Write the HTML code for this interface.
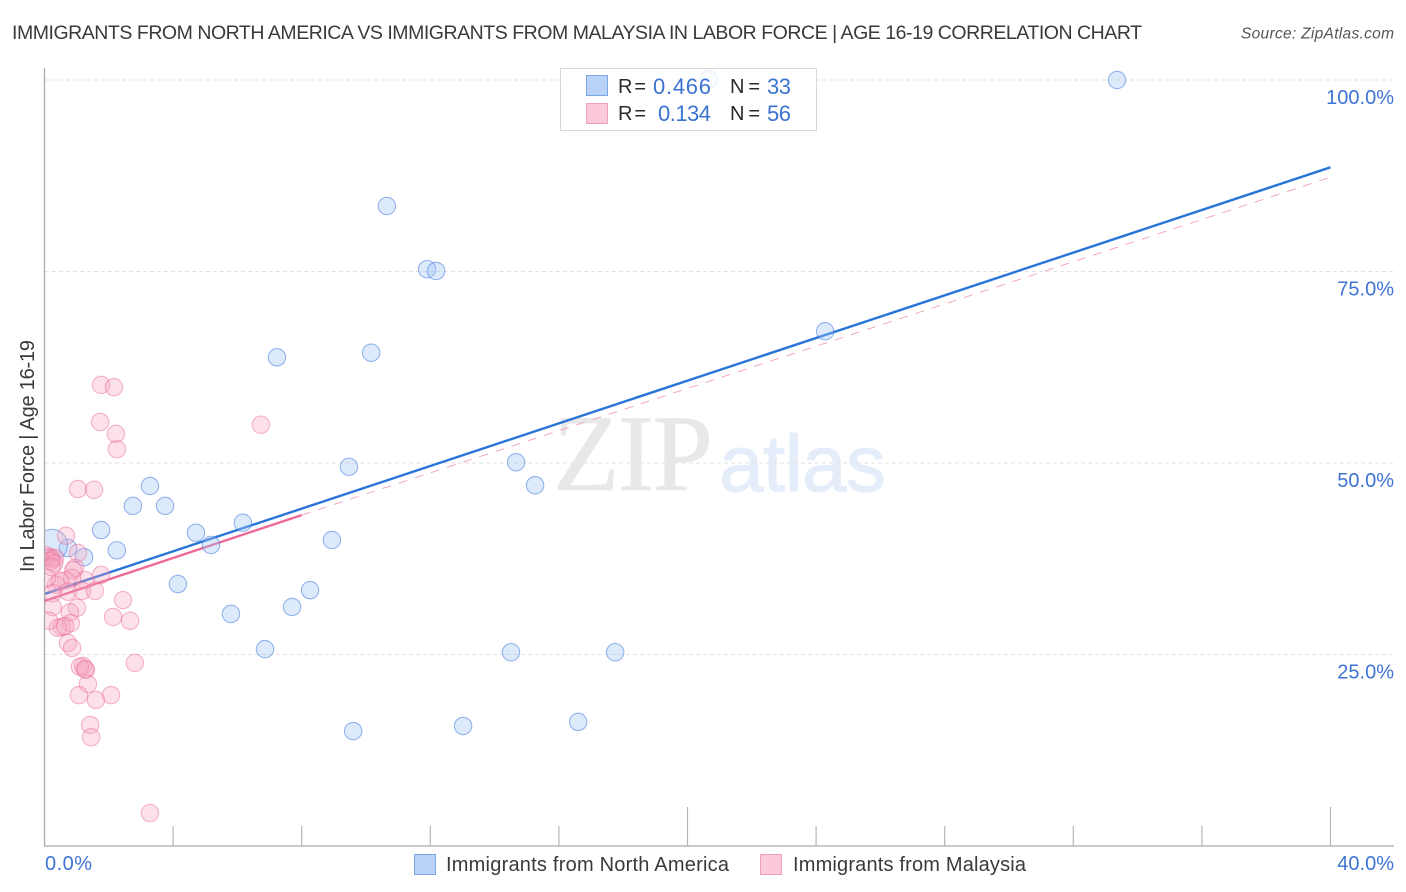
<!DOCTYPE html>
<html lang="en">
<head>
<meta charset="utf-8">
<title>Immigrants from North America vs Immigrants from Malaysia in Labor Force | Age 16-19 Correlation Chart</title>
<style>
html,body{margin:0;padding:0;background:#fff;}
body{width:1406px;height:892px;overflow:hidden;font-family:"Liberation Sans",sans-serif;}
svg{display:block;}
text{font-family:"Liberation Sans",sans-serif;}
</style>
</head>
<body>
<svg id="chart" width="1406" height="892" viewBox="0 0 1406 892" xmlns="http://www.w3.org/2000/svg">
  <defs>
    <clipPath id="plot-clip"><rect x="45" y="66" width="1349" height="780"/></clipPath>
  </defs>
  <rect x="0" y="0" width="1406" height="892" fill="#ffffff"/>
  <text x="12" y="39" font-size="19.5" fill="#3a3a3a" textLength="1130">IMMIGRANTS FROM NORTH AMERICA VS IMMIGRANTS FROM MALAYSIA IN LABOR FORCE | AGE 16-19 CORRELATION CHART</text>
  <text x="1241" y="38.5" font-size="15.5" font-style="italic" fill="#555555" textLength="153">Source: ZipAtlas.com</text>
  <text x="553" y="490" font-size="109" fill="#e8e8e8" stroke="#e8e8e8" stroke-width="0.6" style="font-family:'Liberation Serif',serif" textLength="160">ZIP</text>
  <text x="719" y="491" font-size="80" fill="#e5edfa" stroke="#e5edfa" stroke-width="1" textLength="167">atlas</text>
  <g id="grid"></g>
  <g id="axes"></g>
  <g id="reference-lines" clip-path="url(#plot-clip)"></g>
  <g id="points" clip-path="url(#plot-clip)"></g>
  <g id="labels"></g>
  <text transform="translate(34 572) rotate(-90)" font-size="20" fill="#3a3a3a" textLength="232">In Labor Force | Age 16-19</text>

  <g>
    <rect x="560.5" y="68.5" width="256" height="62" fill="#ffffff" fill-opacity="0.82" stroke="#d8d8d8" stroke-width="1"/>
    <rect x="586.5" y="75.5" width="21" height="20" fill="#b9d3f8" stroke="#7ba7e4" stroke-width="1"/>
    <text x="618" y="93" font-size="20" fill="#2b2b2b" textLength="28">R =</text>
    <text x="653" y="94" font-size="22" fill="#3b73d1" textLength="58">0.466</text>
    <text x="730" y="93" font-size="20" fill="#2b2b2b" textLength="30">N =</text>
    <text x="767" y="94" font-size="22" fill="#3b73d1" textLength="24">33</text>
    <rect x="586.5" y="103.5" width="21" height="20" fill="#fcc9d9" stroke="#f0a0ba" stroke-width="1"/>
    <text x="618" y="120" font-size="20" fill="#2b2b2b" textLength="28">R =</text>
    <text x="658" y="121" font-size="22" fill="#3b73d1" textLength="53">0.134</text>
    <text x="730" y="120" font-size="20" fill="#2b2b2b" textLength="30">N =</text>
    <text x="767" y="121" font-size="22" fill="#3b73d1" textLength="24">56</text>
  </g>

  <g>
    <rect x="414.5" y="854.5" width="21" height="20" fill="#b9d3f8" stroke="#7ba7e4" stroke-width="1"/>
    <text x="446" y="871" font-size="20" fill="#3a3a3a" textLength="283">Immigrants from North America</text>
    <rect x="760.5" y="854.5" width="21" height="20" fill="#fcc9d9" stroke="#f0a0ba" stroke-width="1"/>
    <text x="793" y="871" font-size="20" fill="#3a3a3a" textLength="233">Immigrants from Malaysia</text>
  </g>
</svg>
<script>
// Chart data
const yTickValues = [25, 50, 75, 100];
const yTickLabels = ["25.0%", "50.0%", "75.0%", "100.0%"];
const xMinorTicks = [4, 8, 12, 16, 24, 28, 32, 36];
const xMajorTicks = [20, 40];
const xEndLabels = ["0.0%", "40.0%"];

const northAmericaX = [20.67, 33.36, 10.65, 11.9, 12.18, 24.28, 7.23, 10.16, 9.47, 14.67, 15.26, 3.28, 3.75, 2.75, 1.76, 4.71, 6.17, 5.18, 2.25, 0.73, 1.23, 0.23, 8.94, 4.15, 8.26, 7.7, 5.8, 6.86, 14.51, 17.75, 9.6, 13.02, 16.6];
const northAmericaY = [100.1, 100, 83.55, 75.3, 75.07, 67.2, 63.8, 64.4, 49.5, 50.1, 47.1, 47.0, 44.4, 44.4, 41.25, 40.9, 42.2, 39.3, 38.6, 38.9, 37.7, 39.3, 39.95, 34.2, 33.4, 31.2, 30.3, 25.7, 25.3, 25.3, 15.0, 15.67, 16.2];
const northAmericaWeight = [1, 1, 1, 1, 1, 1, 1, 1, 1, 1, 1, 1, 1, 1, 1, 1, 1, 1, 1, 1, 1, 1.8, 1, 1, 1, 1, 1, 1, 1, 1, 1, 1, 1];

const malaysiaX = [1.76, 2.16, 1.73, 2.22, 2.25, 6.73, 1.04, 1.54, 0.67, 1.04, 0.17, 0.08, 0.23, 0.02, 0.33, 0.2, 0.3, 0.95, 0.89, 1.76, 1.26, 0.67, 0.86, 0.36, 0.48, 0.73, 1.17, 1.57, 2.44, 0.26, 0.08, 2.13, 2.66, 1.01, 0.79, 0.26, 0.82, 0.54, 0.42, 0.64, 0.14, 0.73, 0.86, 2.81, 1.2, 1.29, 1.1, 1.26, 1.35, 1.07, 1.6, 2.07, 1.42, 1.45, 3.28, 0.23];
const malaysiaY = [60.2, 59.9, 55.35, 53.8, 51.8, 55.0, 46.6, 46.5, 40.5, 38.25, 37.7, 37.7, 37.5, 38.0, 37.6, 37.2, 36.9, 36.3, 36.0, 35.4, 34.7, 34.7, 35.0, 34.1, 34.6, 33.2, 33.3, 33.3, 32.1, 33.0, 35.0, 29.9, 29.4, 31.1, 30.5, 31.2, 29.1, 28.6, 28.5, 28.7, 29.4, 26.5, 25.85, 23.9, 23.5, 23.0, 23.4, 23.1, 21.15, 19.7, 19.06, 19.7, 15.8, 14.2, 4.3, 36.4];

const northAmericaTrendX = [0, 40];
const northAmericaTrendY = [32.9, 88.6];
const malaysiaTrendX = [0, 8];
const malaysiaTrendY = [32.0, 43.2];
const malaysiaDashedX = [8, 40];
const malaysiaDashedY = [43.2, 87.3];

// Axis functions
function xScale(v) { return 44.5 + v * 32.15; }
function yScale(v) { return 846 - v * 7.66; }

const NS = 'http://www.w3.org/2000/svg';
function make(tag, parent, props) {
  const el = document.createElementNS(NS, tag);
  for (const k in props) el.setAttribute(k, props[k]);
  document.getElementById(parent).appendChild(el);
  return el;
}

// Gridlines and y labels
yTickValues.forEach(function (v, i) {
  const line = make('line', 'grid', { x1: 45, x2: 1394, y1: yScale(v), y2: yScale(v), stroke: '#e2e2e2', 'stroke-width': 1, 'stroke-dasharray': '4 3' });
  
  
  const label = make('text', 'labels', { x: 1394, y: yScale(v) + 24, 'font-size': 20, fill: '#3f74d4', 'text-anchor': 'end' });
  label.textContent = yTickLabels[i];
  
  
});

// Axes
const yAxis = make('line', 'axes', { x1: 44.5, x2: 44.5, y1: 68, y2: 846.5, stroke: '#aaaaaa', 'stroke-width': 1.3 });


const xAxis = make('line', 'axes', { x1: 44, x2: 1394, y1: 846, y2: 846, stroke: '#aaaaaa', 'stroke-width': 1.3 });



xMinorTicks.forEach(function (v) {
  const t = make('line', 'axes', { x1: xScale(v), x2: xScale(v), y1: 826, y2: 846, stroke: '#b5b5b5', 'stroke-width': 1.2 });
  
  
});
xMajorTicks.forEach(function (v) {
  const t = make('line', 'axes', { x1: xScale(v), x2: xScale(v), y1: 807, y2: 846, stroke: '#b5b5b5', 'stroke-width': 1.2 });
  
  
});

const xStart = make('text', 'labels', { x: 45, y: 870, 'font-size': 20, fill: '#3f74d4', textLength: 47 });
xStart.textContent = xEndLabels[0];


const xEnd = make('text', 'labels', { x: 1394, y: 870, 'font-size': 20, fill: '#3f74d4', 'text-anchor': 'end' });
xEnd.textContent = xEndLabels[1];



// Points
northAmericaX.forEach(function (x, i) {
  const c = make('circle', 'points', { cx: xScale(x), cy: yScale(northAmericaY[i]), r: 8.7 * northAmericaWeight[i], fill: 'rgba(160,198,246,0.36)', stroke: 'rgba(70,125,220,0.55)', 'stroke-width': 1.1 });
  
  
});
malaysiaX.forEach(function (x, i) {
  const c = make('circle', 'points', { cx: xScale(x), cy: yScale(malaysiaY[i]), r: 8.7, fill: 'rgba(247,165,192,0.33)', stroke: 'rgba(235,105,150,0.48)', 'stroke-width': 1.1 });
  
  
});

// Trend lines
const dashed = make('line', 'reference-lines', { x1: xScale(malaysiaDashedX[0]), y1: yScale(malaysiaDashedY[0]), x2: xScale(malaysiaDashedX[1]), y2: yScale(malaysiaDashedY[1]), stroke: '#f0a0ba', 'stroke-width': 0.9, 'stroke-dasharray': '9 8' });


const blueTrend = make('line', 'reference-lines', { x1: xScale(northAmericaTrendX[0]), y1: yScale(northAmericaTrendY[0]), x2: xScale(northAmericaTrendX[1]), y2: yScale(northAmericaTrendY[1]), stroke: '#2874d8', 'stroke-width': 2.4 });


const pinkTrend = make('line', 'reference-lines', { x1: xScale(malaysiaTrendX[0]), y1: yScale(malaysiaTrendY[0]), x2: xScale(malaysiaTrendX[1]), y2: yScale(malaysiaTrendY[1]), stroke: '#ec6a95', 'stroke-width': 2.4 });


</script>
</body>
</html>
